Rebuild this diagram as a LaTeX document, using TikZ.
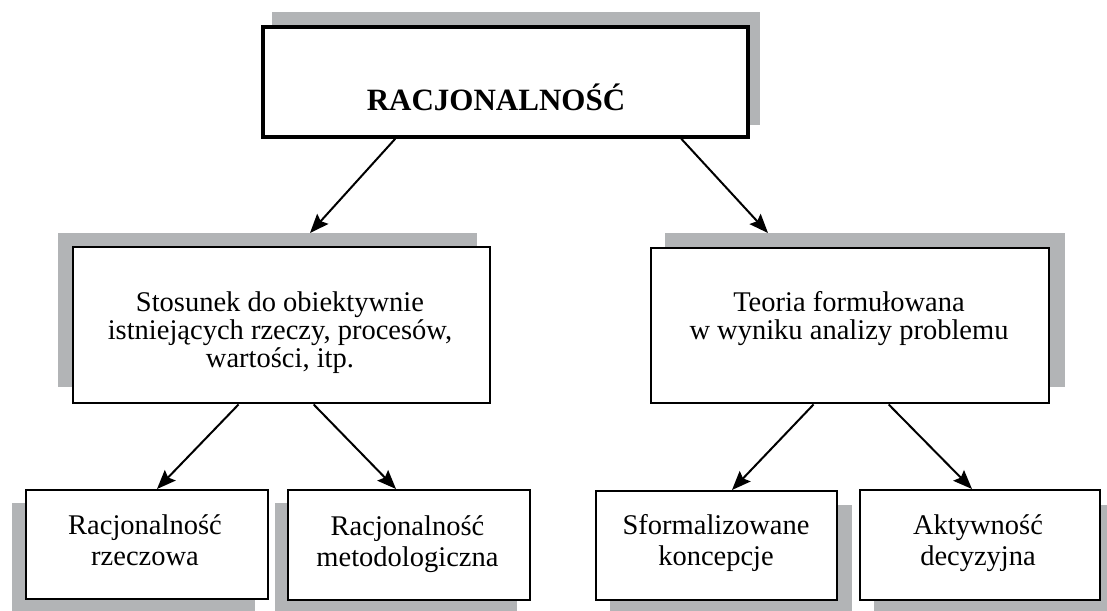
\documentclass[tikz,border=0pt]{standalone}
\usepackage{fontspec}
\setmainfont{Liberation Serif}
\usetikzlibrary{arrows.meta}
\definecolor{shadowgray}{RGB}{178,180,182}
\begin{document}
\begin{tikzpicture}[x=1pt,y=-1pt,
  shadowbox/.style={fill=shadowgray,draw=none},
  frame/.style={draw=black,fill=white,inner sep=0},
  bigtext/.style={font=\bfseries\fontsize{31}{34}\selectfont,anchor=base},
  midtext/.style={font=\fontsize{28.5}{28}\selectfont,align=center,anchor=base},
  lowtext/.style={font=\fontsize{28.5}{30.5}\selectfont,align=center,anchor=base},
  arr/.style={draw=black,line width=2pt,-{Stealth[length=19pt,width=15pt,inset=3pt]}}]
\useasboundingbox (0,0) rectangle (1107,610);
% offset shadows behind the boxes
\draw[shadowbox] (272,12) rectangle (760,125);
\draw[shadowbox] (58,233) rectangle (477,387);
\draw[shadowbox] (665,233) rectangle (1065,387);
\draw[shadowbox] (12,503) rectangle (255,615);
\draw[shadowbox] (275,503) rectangle (517,615);
\draw[shadowbox] (610,505) rectangle (852,615);
\draw[shadowbox] (874,505) rectangle (1115,615);
% top edges of the middle shadows, where the upper arrows end
\coordinate (lshtop) at (58,233);
\coordinate (rshtop) at (665,233);
% boxes
\node[frame,line width=3.5pt,minimum width=485,minimum height=110] (top) at (505.5,82) {};
\node[frame,line width=2.8pt,minimum width=417,minimum height=156] (left) at (281.5,325) {};
\node[frame,line width=2.8pt,minimum width=398,minimum height=155] (right) at (850,325.5) {};
\node[frame,line width=2pt,minimum width=242,minimum height=109] (b1) at (147,544.5) {};
\node[frame,line width=2pt,minimum width=242,minimum height=110] (b2) at (409,545) {};
\node[frame,line width=2pt,minimum width=241,minimum height=109] (b3) at (716.5,545.5) {};
\node[frame,line width=2pt,minimum width=240,minimum height=110] (b4) at (980,545) {};
% texts (base anchor = baseline of the last line)
\node[bigtext] (toptxt) at (496,110) {RACJONALNOŚĆ};
\node[midtext] (lefttxt) at (280,367) {Stosunek do obiektywnie\\istniejących rzeczy, procesów,\\wartości, itp.};
\node[midtext] (righttxt) at (849,339) {Teoria formułowana\\w wyniku analizy problemu};
\node[lowtext] (b1txt) at (145,565) {Racjonalność\\rzeczowa};
\node[lowtext] (b2txt) at (407.5,566) {Racjonalność\\metodologiczna};
\node[lowtext] (b3txt) at (716,565) {Sformalizowane\\koncepcje};
\node[lowtext] (b4txt) at (978,565) {Aktywność\\decyzyjna};
% connectors
\draw[arr] ([xshift=134pt]top.south west) -- ([xshift=252pt]lshtop);
\draw[arr] ([xshift=420pt]top.south west) -- ([xshift=103pt]rshtop);
\draw[arr] ([xshift=167pt]left.south west) -- ([xshift=132pt]b1.north west);
\draw[arr] ([xshift=242pt]left.south west) -- ([xshift=109pt]b2.north west);
\draw[arr] ([xshift=164pt]right.south west) -- ([xshift=137pt]b3.north west);
\draw[arr] ([xshift=239pt]right.south west) -- ([xshift=113pt]b4.north west);
\end{tikzpicture}
\end{document}
